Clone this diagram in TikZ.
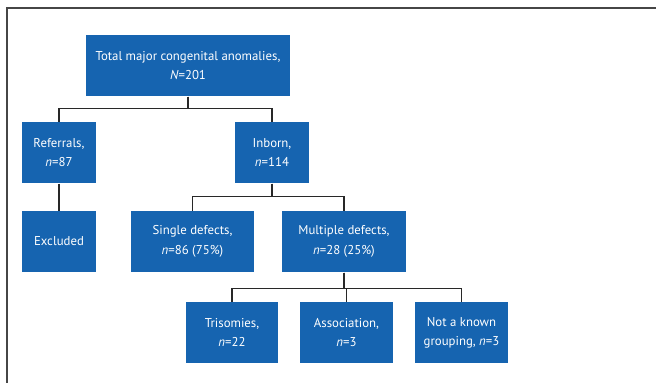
\documentclass[tikz,border=0pt]{standalone}
\usepackage{fontspec}
\setmainfont{PT Sans}
\definecolor{boxblue}{RGB}{22,100,176}
\definecolor{framegray}{RGB}{70,70,70}
\tikzset{every picture/.style={line width=0.75pt}}
\tikzset{
  flowbox/.style={fill=boxblue, draw=none, text=white, align=center, inner sep=2pt,
    minimum height=45.75pt, font=\fontsize{9.6}{14.5}\selectfont},
  link/.style={color={rgb, 255:red, 40; green, 40; blue, 40 }, line width=0.8pt}
}

\begin{document}
\begin{tikzpicture}[x=0.75pt,y=0.75pt,yscale=-1,xscale=1]
\useasboundingbox (0,0) rectangle (656,383);

%Shape: Frame (top and left edge)
\draw [framegray, line width=1.2pt] (656,8) -- (7,8) -- (7,383);

% Boxes
\node [flowbox, minimum width=153pt] (total) at (188,65.5) {Total major congenital anomalies,\\\textit{N}=201};
\node [flowbox, minimum width=55.5pt] (referrals) at (59,152.5) {Referrals,\\\textit{n}=87};
\node [flowbox, minimum width=55.5pt] (inborn) at (272,152.5) {Inborn,\\\textit{n}=114};
\node [flowbox, minimum width=55.5pt] (excluded) at (59,241.5) {Excluded};
\node [flowbox, minimum width=92.25pt] (single) at (192.5,241.5) {Single defects,\\\textit{n}=86 (75\%)};
\node [flowbox, minimum width=93pt] (multiple) at (344,241.5) {Multiple defects,\\\textit{n}=28 (25\%)};
\node [flowbox, minimum width=69pt] (trisomies) at (232,332.5) {Trisomies,\\\textit{n}=22};
\node [flowbox, minimum width=69.75pt] (association) at (346.5,332.5) {Association,\\\textit{n}=3};
\node [flowbox, minimum width=69.75pt] (notknown) at (461.5,332.5) {Not a known\\grouping, \textit{n}=3};

% Connectors
\draw [link] (total.south) -- ++(0,12) -| (referrals.north);
\draw [link] (total.south) -- ++(0,12) -| (inborn.north);
\draw [link] (referrals.south) -- (excluded.north);
\draw [link] (inborn.south) -- ++(0,13) -| (single.north);
\draw [link] (inborn.south) -- ++(0,13) -| (multiple.north);
\draw [link] (multiple.south) -- ++(0,16) -| (trisomies.north);
\draw [link] (multiple.south) -- ++(0,16) -| (association.north);
\draw [link] (multiple.south) -- ++(0,16) -| (notknown.north);

\end{tikzpicture}
\end{document}
